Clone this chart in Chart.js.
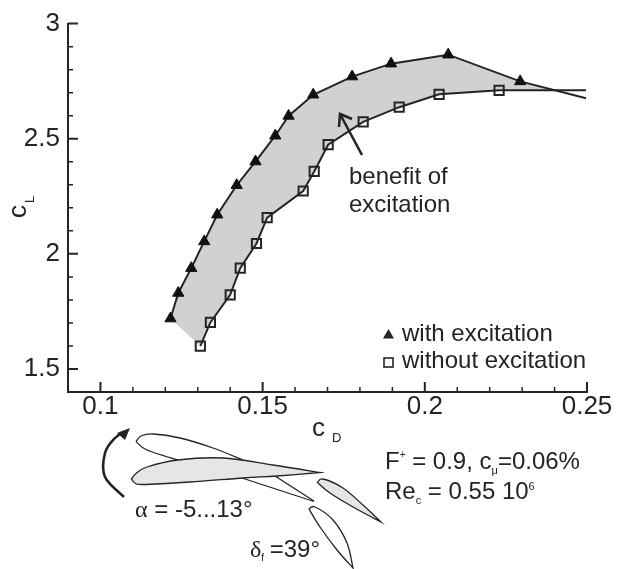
<!DOCTYPE html>
<html>
<head>
<meta charset="utf-8">
<style>
  html, body { margin: 0; padding: 0; background: #fff; }
  #wrap { width: 623px; height: 569px; }
</style>
<script src="https://cdn.jsdelivr.net/npm/chart.js@4"></script>
</head>
<body>
<div id="wrap"><canvas id="myChart" width="623" height="569"></canvas></div>
<script>
// values
const withCd = [0.1216, 0.124, 0.128, 0.132, 0.136, 0.142, 0.1478, 0.1539, 0.158, 0.1656, 0.1776, 0.1896, 0.2072, 0.2294, 0.2497];
const withCl = [1.719, 1.83, 1.938, 2.054, 2.17, 2.298, 2.401, 2.513, 2.599, 2.691, 2.77, 2.826, 2.865, 2.749, 2.676];
const withoutCd = [0.1308, 0.1339, 0.14, 0.1431, 0.1481, 0.1514, 0.1625, 0.1659, 0.1702, 0.181, 0.1921, 0.2044, 0.2229, 0.2497];
const withoutCl = [1.599, 1.702, 1.822, 1.938, 2.045, 2.157, 2.273, 2.358, 2.474, 2.573, 2.637, 2.693, 2.71, 2.71];
const crossing = [0.2408, 2.708]; // where the two curves meet, end of the shaded band

const xMajor = [0.1, 0.15, 0.2, 0.25];
const xMinor = [0.09, 0.11, 0.12, 0.13, 0.14, 0.16, 0.17, 0.18, 0.19, 0.21, 0.22, 0.23, 0.24];
const yMajor = [1.5, 2, 2.5, 3];
const yMinor = [1.4, 1.6, 1.7, 1.8, 1.9, 2.1, 2.2, 2.3, 2.4, 2.6, 2.7, 2.8, 2.9];

const INK = "#262324";
const SANS = '"Liberation Sans", Arial, sans-serif';
const SERIF = '"Liberation Serif", "DejaVu Serif", serif';

// pairs a cd and a cl array into scatter points
const toPoints = (xs, ys) => xs.map((x, i) => ({ x: x, y: ys[i] }));

// no marker on the last point, the curve just runs out to the axis end
const markerRadius = (xs, r) => xs.map((x, i) => (i === xs.length - 1 ? 0 : r));

// shaded band: upper curve up to the crossing, back along the lower one
const band = toPoints(withCd.slice(0, 14), withCl.slice(0, 14))
  .concat([{ x: crossing[0], y: crossing[1] }])
  .concat(toPoints(withoutCd.slice(0, 13), withoutCl.slice(0, 13)).reverse());

// sketch of the airfoils, in page pixels, leading edge to trailing edge
const mainUpper = [[131.5, 479], [136, 473.5], [147, 467], [178, 460], [223, 458], [273, 465], [320, 472.5]];
const mainLower = [[131.5, 479], [135, 483], [143, 484.5], [190, 482], [243, 478], [277, 476], [320, 472.5]];
const backUpper = [[136, 441.5], [141, 436], [153, 434], [180, 438], [213, 448], [243, 460]];
const backLower = [[136, 441.5], [147, 450], [178, 460]];
const rearUpper = [[275, 476], [314, 501]];
const rearLower = [[242, 478], [314, 501.5]];
const flapUpper = [[317.5, 482.5], [323, 479], [343, 488], [363, 505], [381, 522]];
const flapLower = [[317.5, 482.5], [330, 493], [353, 507], [381, 522]];
const lowUpper = [[309, 509], [315, 507], [333, 520], [347, 543], [353, 568]];
const lowLower = [[309, 509], [320, 527], [337, 550], [353, 568]];
const turnArrow = [[124, 497], [105, 477], [105, 453], [115, 438], [124, 432]];

// adds a smooth curve through the points to the current path (catmull-rom)
function curveThrough(ctx, pts) {
  for (let i = 0; i < pts.length - 1; i++) {
    const p0 = pts[Math.max(i - 1, 0)];
    const p1 = pts[i];
    const p2 = pts[i + 1];
    const p3 = pts[Math.min(i + 2, pts.length - 1)];
    ctx.bezierCurveTo(
      p1[0] + (p2[0] - p0[0]) / 6, p1[1] + (p2[1] - p0[1]) / 6,
      p2[0] - (p3[0] - p1[0]) / 6, p2[1] - (p3[1] - p1[1]) / 6,
      p2[0], p2[1]
    );
  }
}

function openCurve(ctx, pts) {
  ctx.beginPath();
  ctx.moveTo(pts[0][0], pts[0][1]);
  curveThrough(ctx, pts);
  ctx.stroke();
}

function foilPath(ctx, upper, lower) {
  ctx.beginPath();
  ctx.moveTo(upper[0][0], upper[0][1]);
  curveThrough(ctx, upper);
  curveThrough(ctx, lower.slice().reverse());
  ctx.closePath();
}

function label(ctx, str, x, y, size, font) {
  ctx.font = size + "px " + (font || SANS);
  ctx.fillText(str, x, y);
  return x + ctx.measureText(str).width;
}

// Tecplot style ticks pointing into the plot
const innerTicks = {
  id: "innerTicks",
  afterDraw(chart) {
    const ctx = chart.ctx;
    const xs = chart.scales.x;
    const ys = chart.scales.y;
    const bottom = chart.chartArea.bottom;
    const left = chart.chartArea.left;
    ctx.save();
    ctx.strokeStyle = INK;
    ctx.lineWidth = 2;
    ctx.beginPath();
    xMajor.forEach((v) => { const p = xs.getPixelForValue(v); ctx.moveTo(p, bottom); ctx.lineTo(p, bottom - 10); });
    yMajor.forEach((v) => { const p = ys.getPixelForValue(v); ctx.moveTo(left, p); ctx.lineTo(left + 10, p); });
    ctx.stroke();
    ctx.lineWidth = 1.5;
    ctx.beginPath();
    xMinor.forEach((v) => { const p = xs.getPixelForValue(v); ctx.moveTo(p, bottom); ctx.lineTo(p, bottom - 5); });
    yMinor.forEach((v) => { const p = ys.getPixelForValue(v); ctx.moveTo(left, p); ctx.lineTo(left + 5, p); });
    ctx.stroke();
    ctx.restore();
  },
};

// everything around the plot: axis names, legend, notes, airfoil sketch
const annotations = {
  id: "annotations",
  afterDraw(chart) {
    const ctx = chart.ctx;
    ctx.save();
    ctx.fillStyle = INK;
    ctx.strokeStyle = INK;
    ctx.textAlign = "left";
    ctx.textBaseline = "alphabetic";

    // axis names
    label(ctx, "c", 312, 436, 26);
    label(ctx, "D", 332, 442, 13);
    ctx.save();
    ctx.translate(26, 218);
    ctx.rotate(-Math.PI / 2);
    label(ctx, "c", 0, 0, 26);
    label(ctx, "L", 15, 8, 13);
    ctx.restore();

    // legend
    ctx.beginPath();
    ctx.moveTo(388.5, 329); ctx.lineTo(394, 338.5); ctx.lineTo(383, 338.5); ctx.closePath();
    ctx.fill();
    ctx.lineWidth = 1.6;
    ctx.strokeRect(384, 358, 9, 9);
    label(ctx, "with excitation", 402, 341, 24);
    label(ctx, "without excitation", 402, 368, 24);

    // benefit arrow
    ctx.lineWidth = 2.6;
    ctx.beginPath();
    ctx.moveTo(362, 155); ctx.lineTo(340, 114);
    ctx.moveTo(339, 127); ctx.lineTo(340, 114); ctx.lineTo(352, 119);
    ctx.stroke();
    label(ctx, "benefit of", 349, 184, 24);
    label(ctx, "excitation", 349, 212, 24);

    // flow conditions
    let x = label(ctx, "F", 385, 469, 24);
    x = label(ctx, "+", x, 458, 10);
    x = label(ctx, " = 0.9, c", x, 469, 24);
    x = label(ctx, "\u03bc", x, 474, 11);
    label(ctx, "=0.06%", x, 469, 24);
    x = label(ctx, "Re", 385, 499, 24);
    x = label(ctx, "c", x, 504, 11);
    x = label(ctx, " = 0.55 10", x, 499, 24);
    label(ctx, "6", x, 490, 11);

    // angles
    x = label(ctx, "\u03b1", 135, 517, 24, SERIF);
    label(ctx, " = -5...13\u00b0", x, 517, 24);
    x = label(ctx, "\u03b4", 250, 557, 24, SERIF);
    x = label(ctx, "f", x, 561, 10);
    label(ctx, " =39\u00b0", x - 1, 557, 24);

    // airfoils
    ctx.lineWidth = 1.3;
    [backUpper, backLower, rearUpper, rearLower].forEach((s) => openCurve(ctx, s));
    ctx.fillStyle = "#e5e6e7";
    foilPath(ctx, mainUpper, mainLower); ctx.fill(); ctx.stroke();
    foilPath(ctx, flapUpper, flapLower); ctx.fill(); ctx.stroke();
    foilPath(ctx, lowUpper, lowLower); ctx.stroke();

    // incidence arrow
    ctx.lineWidth = 2.6;
    openCurve(ctx, turnArrow);
    ctx.fillStyle = INK;
    ctx.beginPath();
    ctx.moveTo(130, 428); ctx.lineTo(117, 433); ctx.lineTo(125, 440); ctx.closePath();
    ctx.fill();
    ctx.restore();
  },
};

new Chart(document.getElementById("myChart").getContext("2d"), {
  type: "scatter",
  data: {
    datasets: [
      {
        label: "with excitation",
        data: toPoints(withCd, withCl),
        showLine: true,
        borderColor: INK,
        borderWidth: 2,
        pointStyle: "triangle",
        pointRadius: markerRadius(withCd, 6.5),
        pointBackgroundColor: "#111",
        pointBorderColor: "#111",
        pointBorderWidth: 1,
        order: 1,
      },
      {
        label: "without excitation",
        data: toPoints(withoutCd, withoutCl),
        showLine: true,
        borderColor: INK,
        borderWidth: 2,
        pointStyle: "rect",
        pointRadius: markerRadius(withoutCd, 6.5),
        pointBackgroundColor: "rgba(0,0,0,0)",
        pointBorderColor: INK,
        pointBorderWidth: 2,
        order: 2,
      },
      {
        label: "benefit of excitation",
        data: band,
        showLine: true,
        borderWidth: 0,
        pointRadius: 0,
        backgroundColor: "#cfd1d3",
        fill: "shape",
        order: 3,
      },
    ],
  },
  options: {
    responsive: false,
    animation: false,
    events: [],
    layout: { autoPadding: false, padding: { left: 0, top: 20, right: 36, bottom: 0 } },
    plugins: { legend: { display: false }, tooltip: { enabled: false } },
    scales: {
      x: {
        type: "linear",
        min: 0.09,
        max: 0.25,
        afterBuildTicks: (scale) => { scale.ticks = xMajor.map((v) => ({ value: v })); },
        afterFit: (scale) => { scale.height = 177; },
        grid: { display: false, drawTicks: false },
        border: { display: true, color: INK, width: 2 },
        ticks: {
          color: INK,
          padding: -1,
          autoSkip: false,
          maxRotation: 0,
          font: { family: SANS, size: 26 },
          callback: (v) => String(v),
        },
      },
      y: {
        type: "linear",
        min: 1.4,
        max: 3,
        afterBuildTicks: (scale) => { scale.ticks = yMajor.map((v) => ({ value: v })); },
        afterFit: (scale) => { scale.width = 68; },
        grid: { display: false, drawTicks: false },
        border: { display: true, color: INK, width: 2 },
        ticks: {
          color: INK,
          padding: 8,
          autoSkip: false,
          font: { family: SANS, size: 26 },
          callback: (v) => String(v),
        },
      },
    },
  },
  plugins: [innerTicks, annotations],
});
</script>
</body>
</html>
